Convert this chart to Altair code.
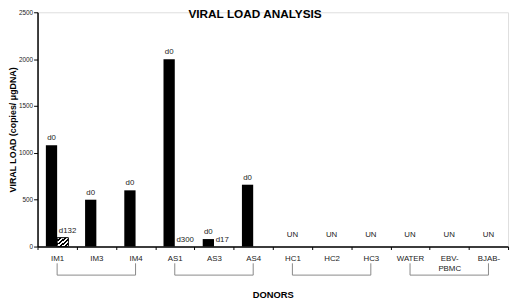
import altair as alt
import pandas as pd

categories = ["IM1", "IM3", "IM4", "AS1", "AS3", "AS4",
              "HC1", "HC2", "HC3", "WATER", "EBV-PBMC", "BJAB-"]
first_values = [1080, 500, 600, 2000, 80, 660, 0, 0, 0, 0, 0, 0]
first_labels = ["d0", "d0", "d0", "d0", "d0", "d0", "UN", "UN", "UN", "UN", "UN", "UN"]
second_cats = ["IM1", "AS1", "AS3"]
second_values = [95, 0, 0]
second_labels = ["d132", "d300", "d17"]
second_hatched = [True, False, False]
groups_first = ["IM1", "AS1", "HC1", "WATER"]
groups_last = ["IM4", "AS4", "HC3", "BJAB-"]

rows = []
for c, v, l in zip(categories, first_values, first_labels):
    rows.append({"cat": c, "slot": "a", "value": v, "label": l, "hatched": False})
for c, v, l, h in zip(second_cats, second_values, second_labels, second_hatched):
    rows.append({"cat": c, "slot": "b", "value": v, "label": l, "hatched": h})
df = pd.DataFrame(rows)
brackets = pd.DataFrame({"first": groups_first, "last": groups_last})
bracket_ends = pd.DataFrame({"cat": groups_first + groups_last})

FONT = "Liberation Sans"
TXT = "#222"
xs = alt.Scale(domain=categories, paddingInner=0, paddingOuter=0)
xoff = alt.XOffset("slot:N", scale=alt.Scale(domain=["a", "b"], paddingInner=0, paddingOuter=0.74))
label_expr = "datum.label == 'EBV-PBMC' ? ['EBV-', 'PBMC'] : datum.label"
x_enc = alt.X("cat:N", scale=xs, sort=categories, title="DONORS",
              axis=alt.Axis(labelAngle=0, tickBand="extent", labelExpr=label_expr,
                            domainColor="black", domainWidth=1.5, tickColor="black",
                            tickSize=3, labelFontSize=8, labelColor=TXT, labelFont=FONT,
                            labelPadding=5, titleFont=FONT, titleFontSize=9.5,
                            titleFontWeight="bold", titlePadding=18, grid=False))
y_enc = alt.Y("value:Q", scale=alt.Scale(domain=[0, 2500]),
              title="VIRAL LOAD (copies/ \u03bcgDNA)",
              axis=alt.Axis(values=[0, 500, 1000, 1500, 2000, 2500], format="d", grid=False,
                            domainColor="black", domainWidth=1.5, tickColor="black",
                            tickSize=4, labelFontSize=6.5, labelColor=TXT, labelFont=FONT,
                            labelPadding=1, titleFont=FONT, titleFontSize=9,
                            titleFontWeight="bold", titlePadding=1, titleColor="black"))

base = alt.Chart(df)

solid = base.transform_filter("!datum.hatched && datum.value > 0").mark_bar(
    color="black").encode(x=x_enc, xOffset=xoff, y=y_enc)

stops = []
n = 9
for i in range(n):
    col = "black" if i % 2 == 1 else "white"
    stops.append(alt.GradientStop(offset=i / n, color=col))
    stops.append(alt.GradientStop(offset=(i + 1) / n, color=col))
hatch = alt.Gradient(gradient="linear", stops=stops, x1=0, y1=0, x2=1, y2=1)
hatched = base.transform_filter("datum.hatched").mark_bar(
    fill=hatch, stroke="black", strokeWidth=1).encode(x=x_enc, xOffset=xoff, y=y_enc)

d0_text = base.transform_filter("datum.label == 'd0'").mark_text(
    baseline="bottom", dy=-3, fontSize=8, font=FONT, color=TXT).encode(
    x=x_enc, xOffset=xoff, y=y_enc, text="label:N")

dn_text = base.transform_filter("datum.slot == 'b'").mark_text(
    baseline="bottom", align="left", dx=-4, dy=-3, fontSize=8, font=FONT, color=TXT).encode(
    x=x_enc, xOffset=xoff, y=y_enc, text="label:N")

un_text = base.transform_filter("datum.label == 'UN'").mark_text(
    baseline="bottom", dy=-8, fontSize=8, font=FONT, color=TXT).encode(
    x=x_enc, y=y_enc, text="label:N")

vert = alt.Chart(bracket_ends).mark_rule(color="#888", strokeWidth=1).encode(
    x=alt.X("cat:N", scale=xs, sort=categories),
    y=alt.value(255), y2=alt.value(267))
horiz = alt.Chart(brackets).mark_rule(color="#888", strokeWidth=1).encode(
    x=alt.X("first:N", scale=xs, sort=categories),
    x2=alt.X2("last:N", bandPosition=0.5),
    y=alt.value(267))

chart = alt.layer(solid, hatched, d0_text, dn_text, un_text, vert, horiz).properties(
    width=478, height=238,
    title=alt.TitleParams("VIRAL LOAD ANALYSIS", font=FONT, fontSize=12,
                          fontWeight="bold", anchor="middle", dx=-18, dy=8, offset=-4),
    autosize=alt.AutoSizeParams(type="none"),
    padding={"left": 30, "top": 2, "right": 4, "bottom": 56},
).configure_view(stroke=None).configure(background="white")

chart.save("out.html", embed_options={"renderer": "svg", "actions": False})
